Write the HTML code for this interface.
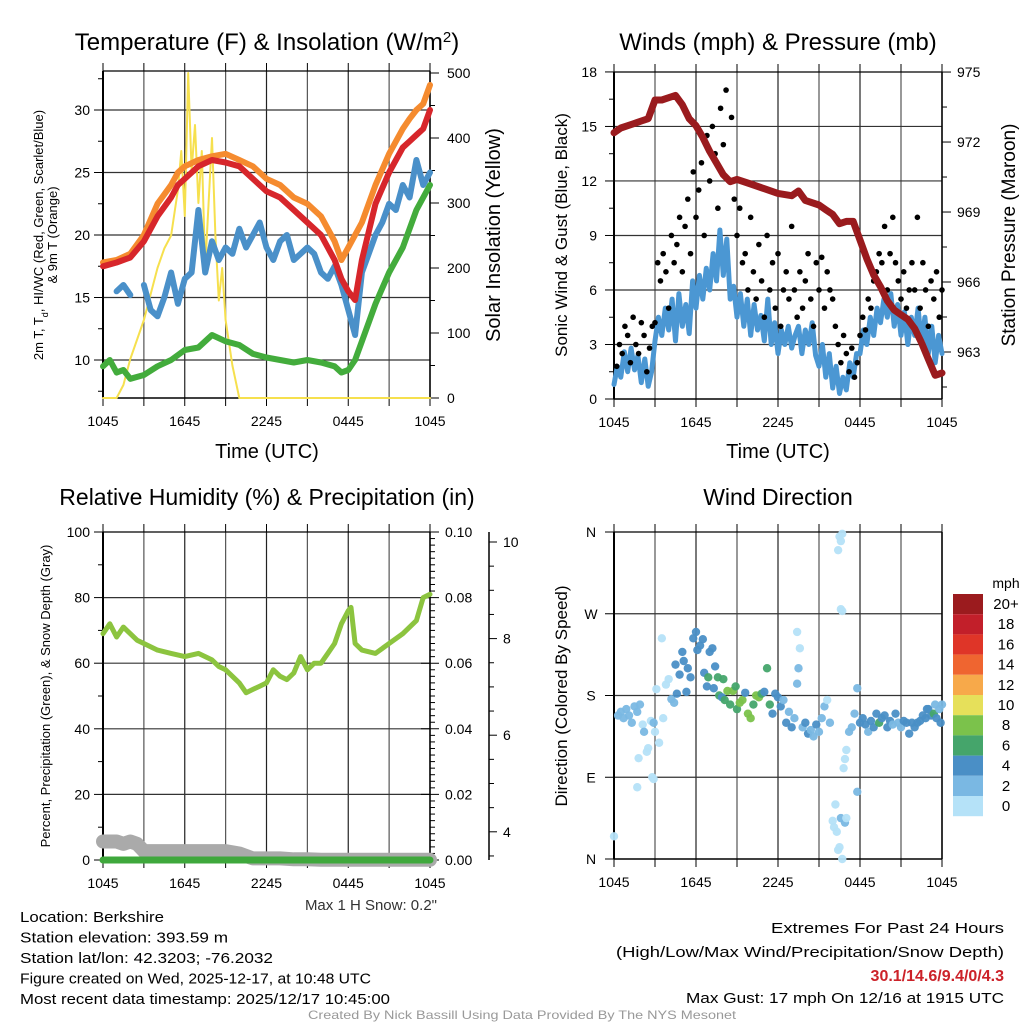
<!DOCTYPE html>
<html><head><meta charset="utf-8"><style>
html,body{margin:0;padding:0;background:#fff}
svg{display:block;font-family:"Liberation Sans",Arial,sans-serif}
</style></head><body>
<svg id="c" width="1024" height="1024" viewBox="0 0 1024 1024"></svg>
<script>
// ---------- DATA ----------
const xTickLabels = ["1045","1645","2245","0445","1045"];
// Temperature panel
const tTimes = [0,1,2,3,4,5,5.5,6,7,8,9,10,11,12,13,14,15,16,16.5,17,17.5,18,18.5,19,20,21,22,22.5,23,23.5,24];
const tOrange = [17.8,18,18.5,20,22.5,24,25,25.5,26,26.3,26.5,26,25.5,24.5,24,23,22.5,21.5,20.5,19.5,18,19,20,21,24,26.5,28.5,29.3,30,30.5,32];
const tRed = [17.5,17.8,18.2,19.5,21.5,23,24,24.5,25.5,26,25.8,25.5,24.5,23.5,23,22,21,20,19,18,16.5,15.5,14.8,18,22.5,25,27,27.5,28,28.5,30];
const gTimes = [0,0.5,1,1.5,2,3,4,5,6,7,8,9,10,11,12,13,14,15,16,17,17.5,18,18.5,19,20,21,22,23,24];
const tGreen = [9.5,10,9,9.2,8.5,8.8,9.5,10,10.8,11,12,11.5,11.2,10.5,10.2,10,9.8,10,9.8,9.5,9,9.2,10,11.5,14.5,17,19,22,24];
const bTimes = [1,1.5,2,3,3.5,4,4.5,5,5.5,6,6.5,7,7.5,8,8.5,9,9.5,10,10.5,11,11.5,12,12.5,13,13.5,14,14.5,15,15.5,16,16.5,17,17.5,18,18.5,19,19.5,20,20.5,21,21.5,22,22.5,23,23.5,24];
const tBlue = [15.5,16,15.2,16,14,13.5,15,17,14.5,16.5,17,22,17,19.5,18,19,18.5,20.5,19,20,21,19,18,19.5,20,18,18.5,19,18.5,17,16.5,17.5,16,14,12,17,18.5,20,21,22.5,22,24,23,26,24,25];
const bBreakAfter = 2;
const sTimes = [0,1,1.5,2,2.5,3,3.5,4,4.5,5,5.5,5.75,6,6.25,6.5,6.75,7,7.25,7.5,7.75,8,8.25,8.5,8.75,9,9.5,10,24];
const solar = [0,0,20,60,90,120,160,200,230,250,320,380,280,500,350,420,300,380,200,300,400,250,150,200,120,50,0,0];
// Winds panel
const sonic = [0.8,1.8,1.2,2.6,1.5,2.8,1.6,2.4,0.9,2.2,0.7,1.5,3.2,4.5,3.5,5,3.8,5.5,3.2,5.8,4,5.2,3.6,6.5,5,6.8,5.5,7.2,6,8,6.5,9.3,6.8,8.8,5.5,6.2,4.5,5.8,4,5.5,3.5,5.2,3.8,4.6,3.2,5.5,3,4.2,2.5,3.8,3,4,2.8,3.5,4,2.5,3.8,3,4.2,2.4,1.8,3,1.2,2.5,0.6,1.8,0.3,1.2,0.5,2,1.2,2.5,2.5,3.8,3,4.5,3.5,5,4.2,5.5,4.5,5.8,4,5.2,3.5,4.8,3,4.5,3.5,5,3,4.5,2.5,4,2,3.5,2.5];
const gustT = [0.2,0.4,0.6,0.8,1,1.2,1.4,1.6,1.8,2,2.2,2.4,2.6,2.8,3,3.2,3.4,3.6,3.8,4,4.2,4.4,4.6,4.8,5,5.2,5.4,5.6,5.8,6,6.2,6.4,6.6,6.8,7,7.2,7.4,7.6,7.8,8,8.2,8.4,8.6,8.8,9,9.2,9.4,9.6,9.8,10,10.2,10.4,10.6,10.8,11,11.2,11.4,11.6,11.8,12,12.2,12.4,12.6,12.8,13,13.2,13.4,13.6,13.8,14,14.2,14.4,14.6,14.8,15,15.2,15.4,15.6,15.8,16,16.2,16.4,16.6,16.8,17,17.2,17.4,17.6,17.8,18,18.2,18.4,18.6,18.8,19,19.2,19.4,19.6,19.8,20,20.2,20.4,20.6,20.8,21,21.2,21.4,21.6,21.8,22,22.2,22.4,22.6,22.8,23,23.2,23.4,23.6,23.8,24];
const gustV = [1.8,3,2.5,4,3.5,2,4.5,3,2.5,4.2,3.5,1.5,2.8,4,4.2,7.5,6.5,8,7,5,9,7.5,8.5,10,7,9.5,11,8,12.5,10,11.5,13,9,14.5,12,15,13.5,10.5,16,14,17,12,15.5,11,9,10.5,7.5,8,6,10,7,5.5,8.5,6.5,4.5,9,6,7.5,5,8,4,6,7,5.5,9.5,6,4.5,7,5,6.5,8,5.5,4,7.5,6,7.8,5,7,6,5.5,4,3,2,3.5,2.5,1.5,2.8,1.2,2,3.5,4.5,3.8,5.5,5,6.5,7,8,7.5,9.5,6,8,10,7.5,6.5,5.5,7,5,6,7.5,6,10,5,7.5,6,4,6.5,5.5,7,4.5,6,5];
const pTimes = [0,0.5,1,1.5,2,2.5,3,3.5,4,4.5,5,5.5,6,6.5,7,7.5,8,8.5,9,10,11,12,13,13.5,14,15,15.5,16,16.5,17,17.5,18,18.5,19,19.5,20,20.5,21,21.5,22,22.5,23,23.5,24];
const pressure = [972.4,972.6,972.7,972.8,972.9,973.0,973.8,973.8,973.9,974.0,973.6,973.0,972.7,972.2,971.6,971.1,970.6,970.3,970.4,970.2,970.0,969.8,969.7,969.9,969.5,969.3,969.1,968.9,968.5,968.6,968.6,967.8,967.0,966.3,965.8,965.2,964.8,964.6,964.4,964.0,963.4,962.7,962.0,962.1];
// RH panel
const rhTimes = [0,0.5,1,1.5,2,2.5,3,4,5,6,7,8,8.5,9,9.5,10,10.5,11,11.5,12,12.5,13,13.5,14,14.5,15,15.5,16,16.5,17,17.5,18,18.2,18.5,19,20,21,22,23,23.5,24];
const rh = [69,72,68,71,69,67,66,64,63,62,63,61,59,58,56,54,51,52,53,54,58,56,55,57,62,58,60,60,63,66,72,76,77,66,64,63,66,69,73,80,81];
const snTimes = [0,0.5,1,1.5,2,2.5,3,4,5,6,7,8,9,10,10.5,11,12,13,14,15,16,17,18,19,20,21,22,23,24];
const snow = [3.8,3.8,3.8,3.75,3.8,3.75,3.6,3.6,3.6,3.6,3.6,3.6,3.6,3.55,3.5,3.45,3.45,3.45,3.43,3.43,3.42,3.42,3.42,3.42,3.42,3.42,3.42,3.42,3.42];
const prTimes = [0,3,6,9,12,15,18,21,24];
const precip = [0,0,0,0,0,0,0,0,0];
// Wind direction panel
const dirT = [0,0.3,0.5,0.7,0.9,1.1,1.3,1.5,1.7,1.9,2.1,2.2,2.4,2.5,2.7,2.9,1.7,1.8,2.8,2.9,3.0,3.1,3.3,3.5,3.6,3.8,4.0,4.2,4.4,4.5,4.6,4.8,5.0,5.1,5.3,5.4,5.6,5.8,6.0,6.1,6.3,6.5,6.6,6.8,6.9,7.0,7.2,7.3,7.4,7.6,7.7,7.9,8.0,8.1,8.3,8.5,8.7,8.9,9.0,9.2,9.4,9.6,9.8,10.0,10.2,10.4,10.6,10.8,11.0,11.2,11.4,11.6,11.8,12.0,12.2,12.4,12.6,12.8,13.0,13.2,13.4,13.5,13.6,13.4,13.8,14.0,14.2,14.4,14.6,14.8,15.0,15.2,15.4,15.6,15.8,16.0,16.1,16.3,16.4,16.5,16.7,16.6,16.9,17.0,16.2,16.4,16.5,16.6,16.7,16.6,16.7,16.8,16.9,17.0,17.2,17.4,17.6,17.8,17.8,18.0,18.2,18.4,18.6,18.8,19.0,19.2,19.4,19.6,19.8,20.0,20.2,20.4,20.6,20.8,21.0,21.2,21.4,21.6,21.8,22.0,22.2,22.4,22.6,22.8,23.0,23.2,23.4,23.6,23.8,24.0,23.9,22.9,23.5];
const dirDeg = [25,158,162,155,165,158,150,168,162,170,148,140,118,122,152,150,79,111,90,88,140,187,128,243,155,192,198,176,172,214,182,203,228,218,184,210,200,243,250,230,235,242,205,190,200,228,232,188,212,200,180,178,198,175,185,170,185,190,165,172,175,183,160,155,170,180,178,182,184,210,170,160,182,178,168,175,150,162,145,155,250,210,232,193,145,150,138,142,135,148,140,155,168,175,150,42,35,30,10,13,0,45,40,45,60,340,355,350,358,275,273,100,110,120,140,145,160,188,74,150,155,148,140,152,145,160,150,155,158,145,152,148,160,150,145,152,150,138,150,145,150,152,158,155,165,158,160,155,165,170,150,165,170];
const dirSpd = [1,2,2,2,2,2,2,2,2,2,1,2,1,1,1,2,1,1,1,1,1,1,1,1,1,1,1,3,3,4,4,4,4,4,4,4,4,4,4,4,4,4,4,4,6,4,5,4,4,6,6,4,6,6,8,6,8,6,6,8,8,4,8,8,6,8,8,6,4,6,6,4,4,4,4,3,4,3,4,3,1,2,1,2,3,4,4,3,3,4,3,3,2,1,3,1,1,1,1,1,1,2,2,1,1,1,1,1,1,1,1,1,1,1,2,2,3,3,3,4,4,4,3,4,4,4,6,4,4,4,4,3,4,3,3,4,4,4,5,4,4,4,4,4,4,4,6,4,3,3,4,4,3,4,3];
const cbLabels = ["20+","18","16","14","12","10","8","6","4","2","0"];
const cbColors = ["#9b1b1e","#c21f2a","#df3528","#ef6530","#f7a94a","#e6e05a","#7bc24b","#45a56b","#4a8fc6","#7ab8e3","#b5e2f8"];

// ---------- DRAW ----------
const svg = document.getElementById('c');
const NS = 'http://www.w3.org/2000/svg';
function mk(tag, at, parent){const e=document.createElementNS(NS,tag);for(const k in at)e.setAttribute(k,at[k]);(parent||svg).appendChild(e);return e;}
function txt(x,y,s,size,anchor,extra){const e=mk('text',Object.assign({x:x,y:y,'font-size':size,'text-anchor':anchor||'middle',fill:'#000'},extra||{}));e.textContent=s;return e;}
function line(x1,y1,x2,y2,stroke,w){return mk('line',{x1:x1,y1:y1,x2:x2,y2:y2,stroke:stroke||'#000','stroke-width':w||1});}
function path(xs,ys,color,w,name,breaks){
  let d='';for(let i=0;i<xs.length;i++){d+=(i===0||(breaks&&breaks.includes(i))?'M':'L')+xs[i].toFixed(1)+' '+ys[i].toFixed(1);}
  const p=mk('path',{d:d,fill:'none',stroke:color,'stroke-width':w,'stroke-linejoin':'round','stroke-linecap':'round'});
  
  
  return p;
}
function frame(x0,x1,y0,y1,gridY){
  for(let k=0;k<=8;k++){const x=x0+k*(x1-x0)/8;line(x,y0,x,y1,k%2?'#555':'#222',1.2);line(x,y0-8,x,y0);line(x,y1,x,y1+8);}
  gridY.forEach(y=>line(x0,y,x1,y,'#333',1.2));
  line(x0,y0,x0,y1,'#000',2);line(x1,y0,x1,y1,'#000',1.5);
  line(x0,y1,x1,y1,'#000',1.5);line(x0,y0,x1,y0,'#000',1.2);
  xTickLabels.forEach((l,i)=>{const x=x0+i*(x1-x0)/4;txt(x,y1+28,l,14);});
}

// Panel 1 - temperature
(function(){
  const x0=103,x1=430,y0=71,y1=398;
  const X=t=>x0+t*(x1-x0)/24;
  const Y=v=>360-(v-10)*12.5;
  const S=v=>398-v*0.65;
  frame(x0,x1,y0,y1,[10,15,20,25,30].map(Y));
  [10,15,20,25,30].forEach(v=>{txt(90,Y(v)+5,String(v),14,'end');line(x0-9,Y(v),x0,Y(v));});
  [7.5,12.5,17.5,22.5,27.5,32.5].forEach(v=>line(x0-5,Y(v),x0,Y(v)));
  [0,100,200,300,400,500].forEach(v=>{txt(447,S(v)+5,String(v),14,'start');line(x1,S(v),x1+9,S(v));});
  [50,150,250,350,450].forEach(v=>line(x1,S(v),x1+5,S(v)));
  path(sTimes.map(X),solar.map(v=>Math.min(S(v),398)),'#f6e04e',2,'solar-insolation-line');
  path(gTimes.map(X),tGreen.map(Y),'#43ac3c',6,'dewpoint-line');
  path(bTimes.map(X),tBlue.map(Y),'#4a90c9',6,'windchill-line',[bBreakAfter+1]);
  path(tTimes.map(X),tOrange.map(Y),'#f58b2f',6,'9m-temperature-line');
  path(tTimes.map(X),tRed.map(Y),'#d7262b',6,'2m-temperature-line');
  const t=txt(267,50,'',24);t.innerHTML='Temperature (F) &amp; Insolation (W/m<tspan baseline-shift="super" font-size="15">2</tspan>)';
  
  txt(267,458,'Time (UTC)',20);
  const a=txt(0,0,'',13,'middle',{transform:'translate(43,235) rotate(-90)'});a.innerHTML='2m T, T<tspan baseline-shift="sub" font-size="9">d</tspan>, HI/WC (Red, Green, Scarlet/Blue)';
  txt(0,0,'& 9m T (Orange)',13,'middle',{transform:'translate(57,235) rotate(-90)'});
  txt(0,0,'Solar Insolation (Yellow)',20,'middle',{transform:'translate(500,235) rotate(-90)'});
})();

// Panel 2 - winds
(function(){
  const x0=614,x1=942,y0=72,y1=399;
  const X=t=>x0+t*(x1-x0)/24;
  const Y=v=>399-v*18.17;
  const P=p=>352-(p-963)*23.33;
  frame(x0,x1,y0,y1,[3,6,9,12,15].map(Y));
  [0,3,6,9,12,15,18].forEach(v=>{txt(597,Y(v)+5,String(v),14,'end');line(x0-9,Y(v),x0,Y(v));});
  [1.5,4.5,7.5,10.5,13.5,16.5].forEach(v=>line(x0-5,Y(v),x0,Y(v)));
  [963,966,969,972,975].forEach(v=>{txt(957,P(v)+5,String(v),14,'start');line(x1,P(v),x1+9,P(v));});
  [961.5,964.5,967.5,970.5,973.5].forEach(v=>line(x1,P(v),x1+5,P(v)));
  path(sonic.map((v,i)=>X(i*0.25)),sonic.map(Y),'#4b97d3',5,'sonic-wind-line');
  const g=mk('g',{});
  gustT.forEach((t,i)=>{const c=mk('circle',{cx:X(t),cy:Y(gustV[i]),r:2.8,fill:'#000'},g);
    
    });
  path(pTimes.map(X),pressure.map(P),'#9a1b1e',7,'pressure-line');
  txt(778,50,'Winds (mph) & Pressure (mb)',24);
  txt(778,458,'Time (UTC)',20);
  txt(0,0,'Sonic Wind & Gust (Blue, Black)',17,'middle',{transform:'translate(567,235) rotate(-90)'});
  txt(0,0,'Station Pressure (Maroon)',19,'middle',{transform:'translate(1015,235) rotate(-90)'});
})();

// Panel 3 - RH
(function(){
  const x0=103,x1=430,y0=532,y1=860;
  const X=t=>x0+t*(x1-x0)/24;
  const Y=v=>860-v*3.28;
  const Q=v=>860-v*3280;
  const N=s=>542+(10-s)*48.3;
  frame(x0,x1,y0,y1,[20,40,60,80].map(Y));
  [0,20,40,60,80,100].forEach(v=>{txt(90,Y(v)+5,String(v),14,'end');line(x0-9,Y(v),x0,Y(v));});
  [10,30,50,70,90].forEach(v=>line(x0-5,Y(v),x0,Y(v)));
  ['0.00','0.02','0.04','0.06','0.08','0.10'].forEach(s=>{const v=parseFloat(s);txt(445,Q(v)+5,s,14,'start');line(x1-9,Q(v),x1+9,Q(v));});
  for(let k=1;k<50;k++){if(k%10)line(x1,Q(k*0.002),x1+5,Q(k*0.002));}
  line(489,532,489,860,'#000',1.5);
  [4,6,8,10].forEach(v=>{txt(503,N(v)+5,String(v),14,'start');line(489,N(v),497,N(v));});
  [3.5,4.5,5,5.5,6.5,7,7.5,8.5,9,9.5].forEach(v=>{if(N(v)<=860)line(489,N(v),494,N(v));});
  path(snTimes.map(X),snow.map(N),'#aaaaaa',14,'snow-depth-line');
  path(prTimes.map(X),precip.map(Q),'#3fa83c',7,'precipitation-line');
  path(rhTimes.map(X),rh.map(Y),'#8cc43f',5,'relative-humidity-line');
  txt(267,505,'Relative Humidity (%) & Precipitation (in)',23);
  txt(0,0,'Percent, Precipitation (Green), & Snow Depth (Gray)',13,'middle',{transform:'translate(50,696) rotate(-90)'});
  txt(437,910,'Max 1 H Snow: 0.2"',15,'end',{fill:'#333'});
})();

// Panel 4 - wind direction
(function(){
  const x0=614,x1=942,y0=532,y1=859;
  const X=t=>x0+t*(x1-x0)/24;
  const Y=d=>859-d*0.9083;
  frame(x0,x1,y0,y1,[90,180,270].map(Y));
  ['N','E','S','W','N'].forEach((l,i)=>{txt(591,Y(i*90)+5,l,14,'middle');line(x0-9,Y(i*90),x0,Y(i*90));});
  const colorFor=s=>cbColors[10-Math.min(10,Math.floor(s/2))];
  const g=mk('g',{});
  dirT.forEach((t,i)=>{const c=mk('circle',{cx:X(t),cy:Y(dirDeg[i]),r:4.2,fill:colorFor(dirSpd[i]),'fill-opacity':0.95},g);
    
    });
  txt(778,505,'Wind Direction',23);
  txt(0,0,'Direction (Colored By Speed)',17,'middle',{transform:'translate(567,696) rotate(-90)'});
  txt(1006,588,'mph',14,'middle');
  cbColors.forEach((c,i)=>{const r=mk('rect',{x:953,y:594+i*20.2,width:30,height:20.2,fill:c});
    
    
    txt(1006,594+i*20.2+15,cbLabels[i],15,'middle');});
})();

// footer
const foot=["Location: Berkshire","Station elevation: 393.59 m","Station lat/lon: 42.3203; -76.2032","Figure created on Wed, 2025-12-17, at 10:48 UTC","Most recent data timestamp: 2025/12/17 10:45:00"];
const footW=[144,208,253,351,370];
foot.forEach((s,i)=>txt(20,922+i*20.5,s,15,'start',{textLength:footW[i],lengthAdjust:'spacingAndGlyphs'}));
txt(1004,933,'Extremes For Past 24 Hours',15,'end',{textLength:233,lengthAdjust:'spacingAndGlyphs'});
txt(1004,957,'(High/Low/Max Wind/Precipitation/Snow Depth)',15,'end',{textLength:388,lengthAdjust:'spacingAndGlyphs'});
txt(1004,981,'30.1/14.6/9.4/0/4.3',16,'end',{fill:'#cc2229','font-weight':'bold'});
txt(1004,1003,'Max Gust: 17 mph On 12/16 at 1915 UTC',15,'end',{textLength:318,lengthAdjust:'spacingAndGlyphs'});
txt(522,1019,'Created By Nick Bassill Using Data Provided By The NYS Mesonet',12,'middle',{fill:'#999',textLength:428,lengthAdjust:'spacingAndGlyphs'});
</script>
</body></html>
